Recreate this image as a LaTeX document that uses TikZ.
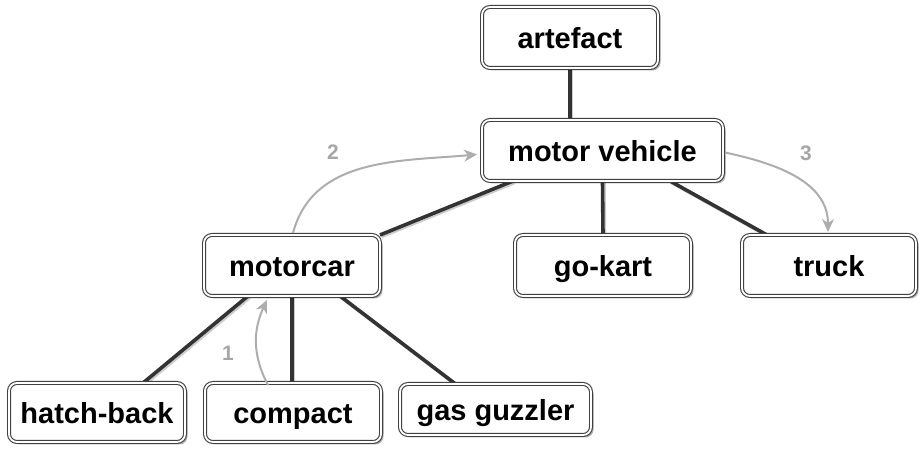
\documentclass[tikz,border=0pt]{standalone}
\usepackage{fontspec}
\setmainfont{Liberation Sans}
\usetikzlibrary{shadows,arrows.meta,backgrounds}
\begin{document}
\begin{tikzpicture}[x=1pt,y=1pt,
  box/.style={draw=black!75, double=white, line width=1.1pt, double distance=1.8pt,
    rounded corners=8pt, fill=white, inner sep=0pt, outer sep=0pt,
    text height=23pt, text depth=0pt,
    font=\fontsize{29}{31}\selectfont\bfseries,
    drop shadow={shadow xshift=2.5pt, shadow yshift=-2.5pt, opacity=0.3, fill=black}},
  edge/.style={draw=black!80, line width=3.6pt,
    preaction={draw=black!20, line width=3.6pt, transform canvas={shift={(1.5pt,-1.5pt)}}}},
  arr/.style={draw=black!32, line width=2pt, -{Stealth[length=13pt,width=12pt,inset=4pt]}},
  lab/.style={text=black!35, font=\fontsize{21}{22}\selectfont\bfseries}
]
\useasboundingbox (0,0) rectangle (921,449);
\node[box, minimum width=176pt, minimum height=61pt] (a) at (570,411.5) {artefact};
\node[box, minimum width=241pt, minimum height=61pt] (mv) at (602.5,298.5) {motor vehicle};
\node[box, minimum width=176pt, minimum height=61pt] (mc) at (292,183.5) {motorcar};
\node[box, minimum width=176pt, minimum height=61pt] (gk) at (603,183.5) {go-kart};
\node[box, minimum width=174pt, minimum height=61pt] (tr) at (829,183.5) {truck};
\node[box, minimum width=176pt, minimum height=59pt] (hb) at (97,36.5) {hatch-back};
\node[box, minimum width=176pt, minimum height=59pt] (cp) at (293,36.5) {compact};
\node[box, minimum width=191pt, minimum height=51pt] (gg) at (495.5,39.5) {gas guzzler};

\begin{scope}[on background layer]
\draw[edge] (a.south) -- (a.south |- mv.north);
\draw[edge] ([xshift=31pt]mv.south west) -- (mc.north east);
\draw[edge] (mv.south) -- (gk.north);
\draw[edge] ([xshift=-53pt]mv.south east) -- ([xshift=25pt]tr.north west);
\draw[edge] ([xshift=-44pt]mc.south) -- ([xshift=46pt]hb.north);
\draw[edge] (mc.south) -- (mc.south |- cp.north);
\draw[edge] ([xshift=48pt]mc.south) -- ([xshift=-40pt]gg.north);
\end{scope}

\draw[arr] ([xshift=-25pt,yshift=-2pt]cp.north) to[out=118, in=245] ([xshift=-25pt,yshift=-4pt]mc.south);
\draw[arr] ([xshift=1pt,yshift=2pt]mc.north) to[out=75, in=185] ([xshift=-5pt,yshift=-4pt]mv.west);
\draw[arr] ([xshift=2pt,yshift=-2pt]mv.east) to[out=-12, in=90] ([xshift=-1pt,yshift=3pt]tr.north);

\node[lab] (l1) at (228,96) {1};
\node[lab] (l2) at (333,297) {2};
\node[lab] (l3) at (806,296) {3};
\end{tikzpicture}
\end{document}
